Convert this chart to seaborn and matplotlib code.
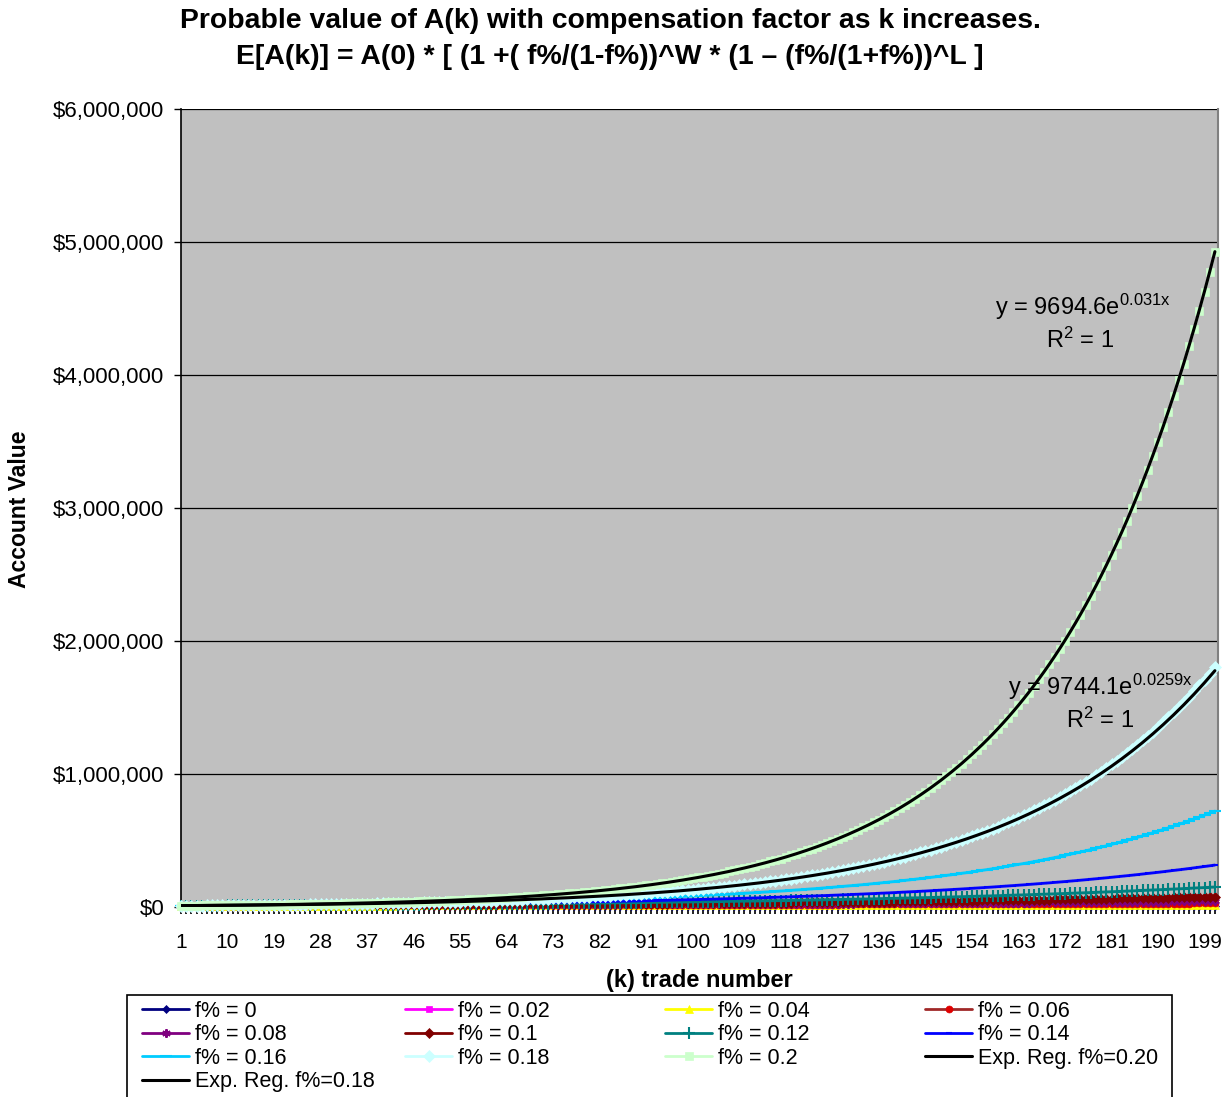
import numpy as np
import pandas as pd
import matplotlib
matplotlib.use("Agg")
import matplotlib.pyplot as plt
import matplotlib.patches as mpatches
from matplotlib.ticker import FuncFormatter, FixedLocator
import seaborn as sns

# ---- data -------------------------------------------------------------
start_value = 10000.0          # A(0)
win_share = 0.5261             # share of trades that are winners (W / k)
n_points = 201                 # k = 0 .. 200, plotted at categories 1 .. 201
f_values = [0.0, 0.02, 0.04, 0.06, 0.08, 0.10, 0.12, 0.14, 0.16, 0.18, 0.20]
series_labels = ["f% = 0", "f% = 0.02", "f% = 0.04", "f% = 0.06", "f% = 0.08",
                 "f% = 0.1", "f% = 0.12", "f% = 0.14", "f% = 0.16",
                 "f% = 0.18", "f% = 0.2"]
trend_coef = [9694.6, 9744.1]          # Excel exponential trend: a * e^(b x)
trend_rate = [0.031, 0.0259]
trend_labels = ["Exp. Reg. f%=0.20", "Exp. Reg. f%=0.18"]
x_tick_labels = list(range(1, 200, 9))
y_ticks = [0, 1_000_000, 2_000_000, 3_000_000, 4_000_000, 5_000_000, 6_000_000]

# ---- styles -----------------------------------------------------------
line_colors = ["#000080", "#FF00FF", "#FFFF00", "#A02828", "#800080", "#800000",
               "#008080", "#0000FF", "#00CCFF", "#CCFFFF", "#CCFFCC"]
marker_colors = ["#000080", "#FF00FF", "#FFFF00", "#E00000", "#800080", "#800000",
                 "#008080", "#0000FF", "#00CCFF", "#CCFFFF", "#CCFFCC"]
markers = ["D", "s", "^", "o", (6, 2, 0), "D", "+", "_", "_", "D", "s"]
marker_sizes = [4.5, 5, 6, 5, 6, 5, 8, 5, 8, 6, 6]

sns.set_theme(style="white")
plt.rcParams["font.family"] = ["Liberation Sans", "DejaVu Sans"]
plt.rcParams["mathtext.fontset"] = "custom"
plt.rcParams["mathtext.rm"] = "Liberation Sans"
plt.rcParams["mathtext.it"] = "Liberation Sans:italic"
plt.rcParams["text.color"] = "black"
plt.rcParams["xtick.color"] = "black"
plt.rcParams["ytick.color"] = "black"

W, H = 1228, 1097
fig = plt.figure(figsize=(W / 100, H / 100), dpi=100)
fig.patch.set_facecolor("white")
ax = fig.add_axes([181 / W, 1 - 907 / H, (1218 - 181) / W, (907 - 109) / H])
ax.set_facecolor("#C0C0C0")

# expected account value from the compensation-factor formula
k = np.arange(n_points)
x = k + 1
rows = []
for f, lab in zip(f_values, series_labels):
    win_mult = 1 + f / (1 - f)
    loss_mult = 1 - f / (1 + f)
    vals = start_value * (win_mult ** (win_share * k)) * (loss_mult ** ((1 - win_share) * k))
    rows.append(pd.DataFrame({"trade": x, "value": vals, "series": lab}))
df = pd.concat(rows, ignore_index=True)

handles = {}
for i, lab in enumerate(series_labels):
    sub = df[df["series"] == lab]
    sns.lineplot(data=sub, x="trade", y="value", ax=ax, color=line_colors[i],
                 lw=2, marker=markers[i], markersize=marker_sizes[i],
                 markerfacecolor=marker_colors[i], markeredgecolor=marker_colors[i],
                 markeredgewidth=1.5 if markers[i] in ("+", "_", (6, 2, 0)) else 0.5,
                 label=lab, zorder=3 + i * 0.1, clip_on=False, legend=False)
    handles[lab] = ax.lines[-1]

for a, b, lab in zip(trend_coef, trend_rate, trend_labels):
    trend_df = pd.DataFrame({"trade": x, "value": a * np.exp(b * x)})
    sns.lineplot(data=trend_df, x="trade", y="value", ax=ax, color="black",
                 lw=2.2, label=lab, zorder=5, legend=False)
    handles[lab] = ax.lines[-1]

# ---- axes -------------------------------------------------------------
ax.set_xlim(1, 201.6)
ax.set_ylim(0, 6_000_000)
ax.set_yticks(y_ticks)
ax.yaxis.set_major_formatter(FuncFormatter(lambda v, p: "${:,.0f}".format(v)))
ax.set_xticks(x_tick_labels)
ax.set_xticklabels([str(t) for t in x_tick_labels])
ax.xaxis.set_minor_locator(FixedLocator(np.arange(1, n_points + 1)))
ax.grid(axis="y", color="black", lw=0.9)
ax.set_axisbelow(True)
ax.tick_params(axis="y", which="major", direction="out", length=5, width=1,
               color="black", labelsize=16, pad=7, left=True, labelcolor="black")
ax.tick_params(axis="x", which="both", direction="out", length=5, width=1.2,
               color="black", bottom=True, labelsize=15, pad=14, labelcolor="black")
ax.set_xlabel("")
ax.set_ylabel("")
for side in ("left", "bottom"):
    ax.spines[side].set_color("black")
    ax.spines[side].set_linewidth(1.2)
ax.spines["top"].set_visible(False)
ax.spines["right"].set_color("#808080")
ax.spines["right"].set_linewidth(1.5)

# ---- titles and labels ---------------------------------------------------
fig.text(610 / W, 1 - 21 / H, "Probable value of A(k) with compensation factor as k increases.",
         ha="center", va="center", fontsize=20.4, fontweight="bold")
fig.text(610 / W, 1 - 57 / H, "E[A(k)] = A(0) * [ (1 +( f%/(1-f%))^W * (1 \u2013 (f%/(1+f%))^L ]",
         ha="center", va="center", fontsize=20.4, fontweight="bold")
fig.text(20 / W, 1 - 509 / H, "Account Value", rotation=90, ha="center", va="center",
         fontsize=16.5, fontweight="bold")
fig.text(699 / W, 1 - 981 / H, "(k) trade number", ha="center", va="center",
         fontsize=17, fontweight="bold")

# trend equations
fig.text(995 / W, 1 - 307 / H, r"y = 9694.6e$^{\mathrm{0.031x}}$", ha="left", va="center",
         fontsize=17)
fig.text(1080 / W, 1 - 340 / H, r"R$^{\mathrm{2}}$ = 1", ha="center", va="center",
         fontsize=17)
fig.text(1008 / W, 1 - 687 / H, r"y = 9744.1e$^{\mathrm{0.0259x}}$", ha="left", va="center",
         fontsize=17)
fig.text(1100 / W, 1 - 720 / H, r"R$^{\mathrm{2}}$ = 1", ha="center", va="center",
         fontsize=17)

# ---- legend: boxed, four columns filled row by row ---------------------
frame = mpatches.Rectangle((127 / W, -0.01), (1172 - 127) / W, (1 - 995 / H) + 0.01,
                           transform=fig.transFigure, facecolor="white",
                           edgecolor="black", lw=1.2, zorder=0)
fig.add_artist(frame)
order = [series_labels[0], series_labels[1], series_labels[2], series_labels[3],
         series_labels[4], series_labels[5], series_labels[6], series_labels[7],
         series_labels[8], series_labels[9], series_labels[10], trend_labels[0],
         trend_labels[1]]
col_x = [142, 405, 665, 925]
for c in range(4):
    labs = order[c::4]
    fig.legend([handles[l] for l in labs], labs, loc="upper left",
               bbox_to_anchor=(col_x[c] / W, 1 - 1001 / H),
               bbox_transform=fig.transFigure, frameon=False,
               fontsize=15.5, numpoints=1, handlelength=2.2, handletextpad=0.25,
               labelspacing=0.11, borderpad=0, borderaxespad=0)

fig.savefig("out.png", dpi=100)
